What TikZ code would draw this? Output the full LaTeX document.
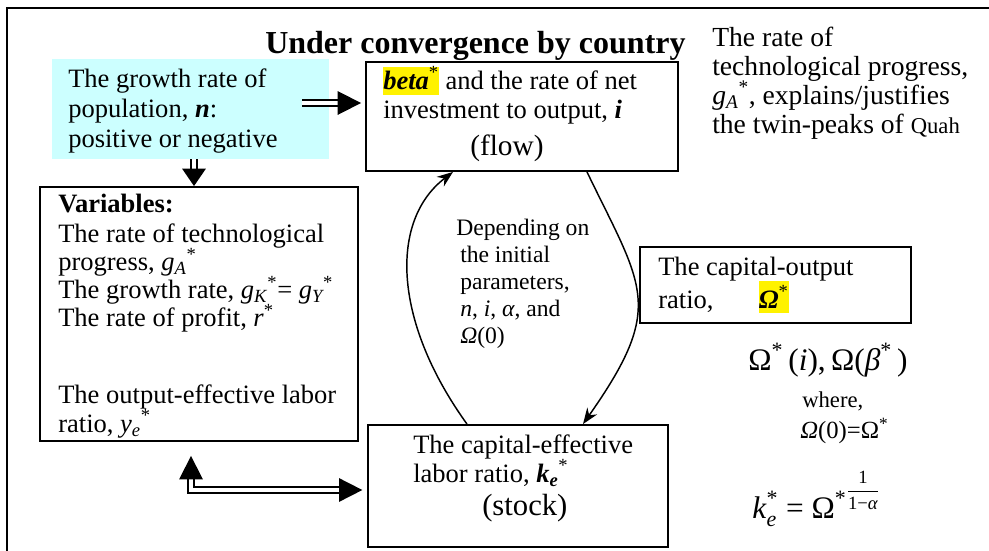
\documentclass[tikz,border=0pt]{standalone}
\usepackage{fontspec}
\setmainfont{Liberation Serif}
\usepackage{amsmath}
\usetikzlibrary{arrows.meta,fit,calc}
\definecolor{paleaqua}{RGB}{204,255,255}
\newcommand\fs[2]{\fontsize{#1pt}{#2pt}\selectfont\lineskiplimit=-100pt\relax}
\newcommand\hlbox[3]{{\setlength\fboxsep{0pt}\colorbox{yellow}{\rule[#1]{0pt}{#2}#3}}}
\newcommand\bi[1]{\textbf{\textit{#1}}}
\tikzset{
  box/.style={draw, line width=1.4pt, inner sep=0pt},
  txt/.style={anchor=base west, inner sep=0pt, align=left, font={\fs{19.9}{22.5}}},
  dbl/.style={double, double distance=3pt, line width=1.3pt, -{Triangle[length=17.5pt,width=17.5pt]}},
  curvearrow/.style={line width=1.1pt, -{Stealth[length=12pt,width=9pt]}}
}
\begin{document}
\begin{tikzpicture}[x=0.75pt,y=-0.75pt]
\useasboundingbox (0,0) rectangle (989,550);
\draw[line width=1.9pt] (7,570) -- (7,8) -- (1010,8);

% boxes
\node[fill=paleaqua, inner sep=0pt, fit={(52,59) (329,159)}] (cyan) {};
\node[box, fit={(366,62) (678,171)}] (beta) {};
\node[box, fit={(40,187) (358,441)}] (vars) {};
\node[box, fit={(640,247) (911,323)}] (omega) {};
\node[box, fit={(368,425) (668,547)}] (ke) {};

% texts (anchor = baseline of the last line)
\node[txt, font={\fs{24}{28}\bfseries}] (title) at (265,53) {Under convergence by country};
\node[txt] (cyantext) at (68,147) {The growth rate of\\population, \bi{n}:\\positive or negative};
\node[txt, font={\fs{19.9}{21.75}}] (betatext) at (383,155) {\hlbox{-4.5pt}{15.75pt}{\bi{beta}\textsuperscript{*}} and the rate of net\\investment to output, \bi{i}\\[6pt]\hspace*{65.25pt}{\fs{22}{24}(flow)}};
\node[txt, font={\fs{20.7}{21.75}}] (righttext) at (712,133) {The rate of\\technological progress,\\\textit{g\textsubscript{A}}\textsuperscript{*}, explains/justifies\\the twin-peaks of {\fs{17}{20}Quah}};
\node[txt, font={\fs{19.9}{21.2}}] (varstext) at (58,432) {\textbf{Variables:}\\[1.3pt]The rate of technological\\progress, \textit{g\textsubscript{A}}\textsuperscript{*}\\The growth rate, \textit{g\textsubscript{K}}\textsuperscript{*}= \textit{g\textsubscript{Y}}\textsuperscript{*}\\The rate of profit, \textit{r}\textsuperscript{*}\\[36.5pt]The output-effective labor\\ratio, \textit{y\textsubscript{e}}\textsuperscript{*}};
\node[txt] (omegatext) at (658,308) {The capital-output\\[2.25pt]ratio,\hspace*{34pt}\hlbox{-3.75pt}{24pt}{\bi{Ω}\textsuperscript{*}}};
\node[txt, font={\fs{17.7}{20.25}}] (deptext) at (456,343) {Depending on\\\hspace*{3pt}the initial\\\hspace*{3pt}parameters,\\\hspace*{3pt}\textit{n}, \textit{i}, \textit{α}, and\\\hspace*{3pt}\textit{Ω}(0)};
\node[txt] (ketext) at (413,515) {The capital-effective\\[-0.75pt]labor ratio, \bi{k\textsubscript{e}}\textsuperscript{*}\\[2.25pt]\hspace*{51.75pt}{\fs{23}{25}(stock)}};
\node[txt, font={\fs{23.5}{26}}] (f1) at (748,370) {Ω\textsuperscript{*}\,(\textit{i}),\,Ω(\textit{β}\textsuperscript{*}\,)};
\node[txt, font={\fs{17}{20}}] (f2) at (802,407) {where,};
\node[txt, font={\fs{18.5}{21}}] (f3) at (800,438) {\textit{Ω}(0)=Ω\textsuperscript{*}};
\node[txt, font={\fs{23.5}{26}}] (f4) at (752,518) {$\text{\textit{k}}^{\text{*}}_{\text{\textit{e}}}$ = Ω\textsuperscript{*}\raisebox{16pt}{\fs{14}{16}$\dfrac{\text{1}}{\text{1−\textit{α}}}$}};

% connectors
\coordinate (a1s) at (302,103);
\draw[dbl, shorten >=3pt] (a1s) -- (a1s -| beta.west);
\coordinate (a2s) at (194,159);
\draw[double, double distance=3pt, line width=1.3pt, -{Triangle[length=13pt,width=17.5pt]}] (a2s) -- (a2s |- vars.north);
\coordinate (elb) at (191,490);
\draw[dbl, {Triangle[length=17.5pt,width=17.5pt]}-{Triangle[length=17.5pt,width=17.5pt]}, shorten <=10.5pt, shorten >=3.5pt] (elb |- vars.south) -- (elb) -- (elb -| ke.west);
\draw[curvearrow] (467,0 |- ke.north) .. controls (392,320) and (390,220) .. (453,0 |- beta.south);
\draw[curvearrow] (587,0 |- beta.south) .. controls (643,288) and (666,306) .. (583,0 |- ke.north);
\end{tikzpicture}
\end{document}
